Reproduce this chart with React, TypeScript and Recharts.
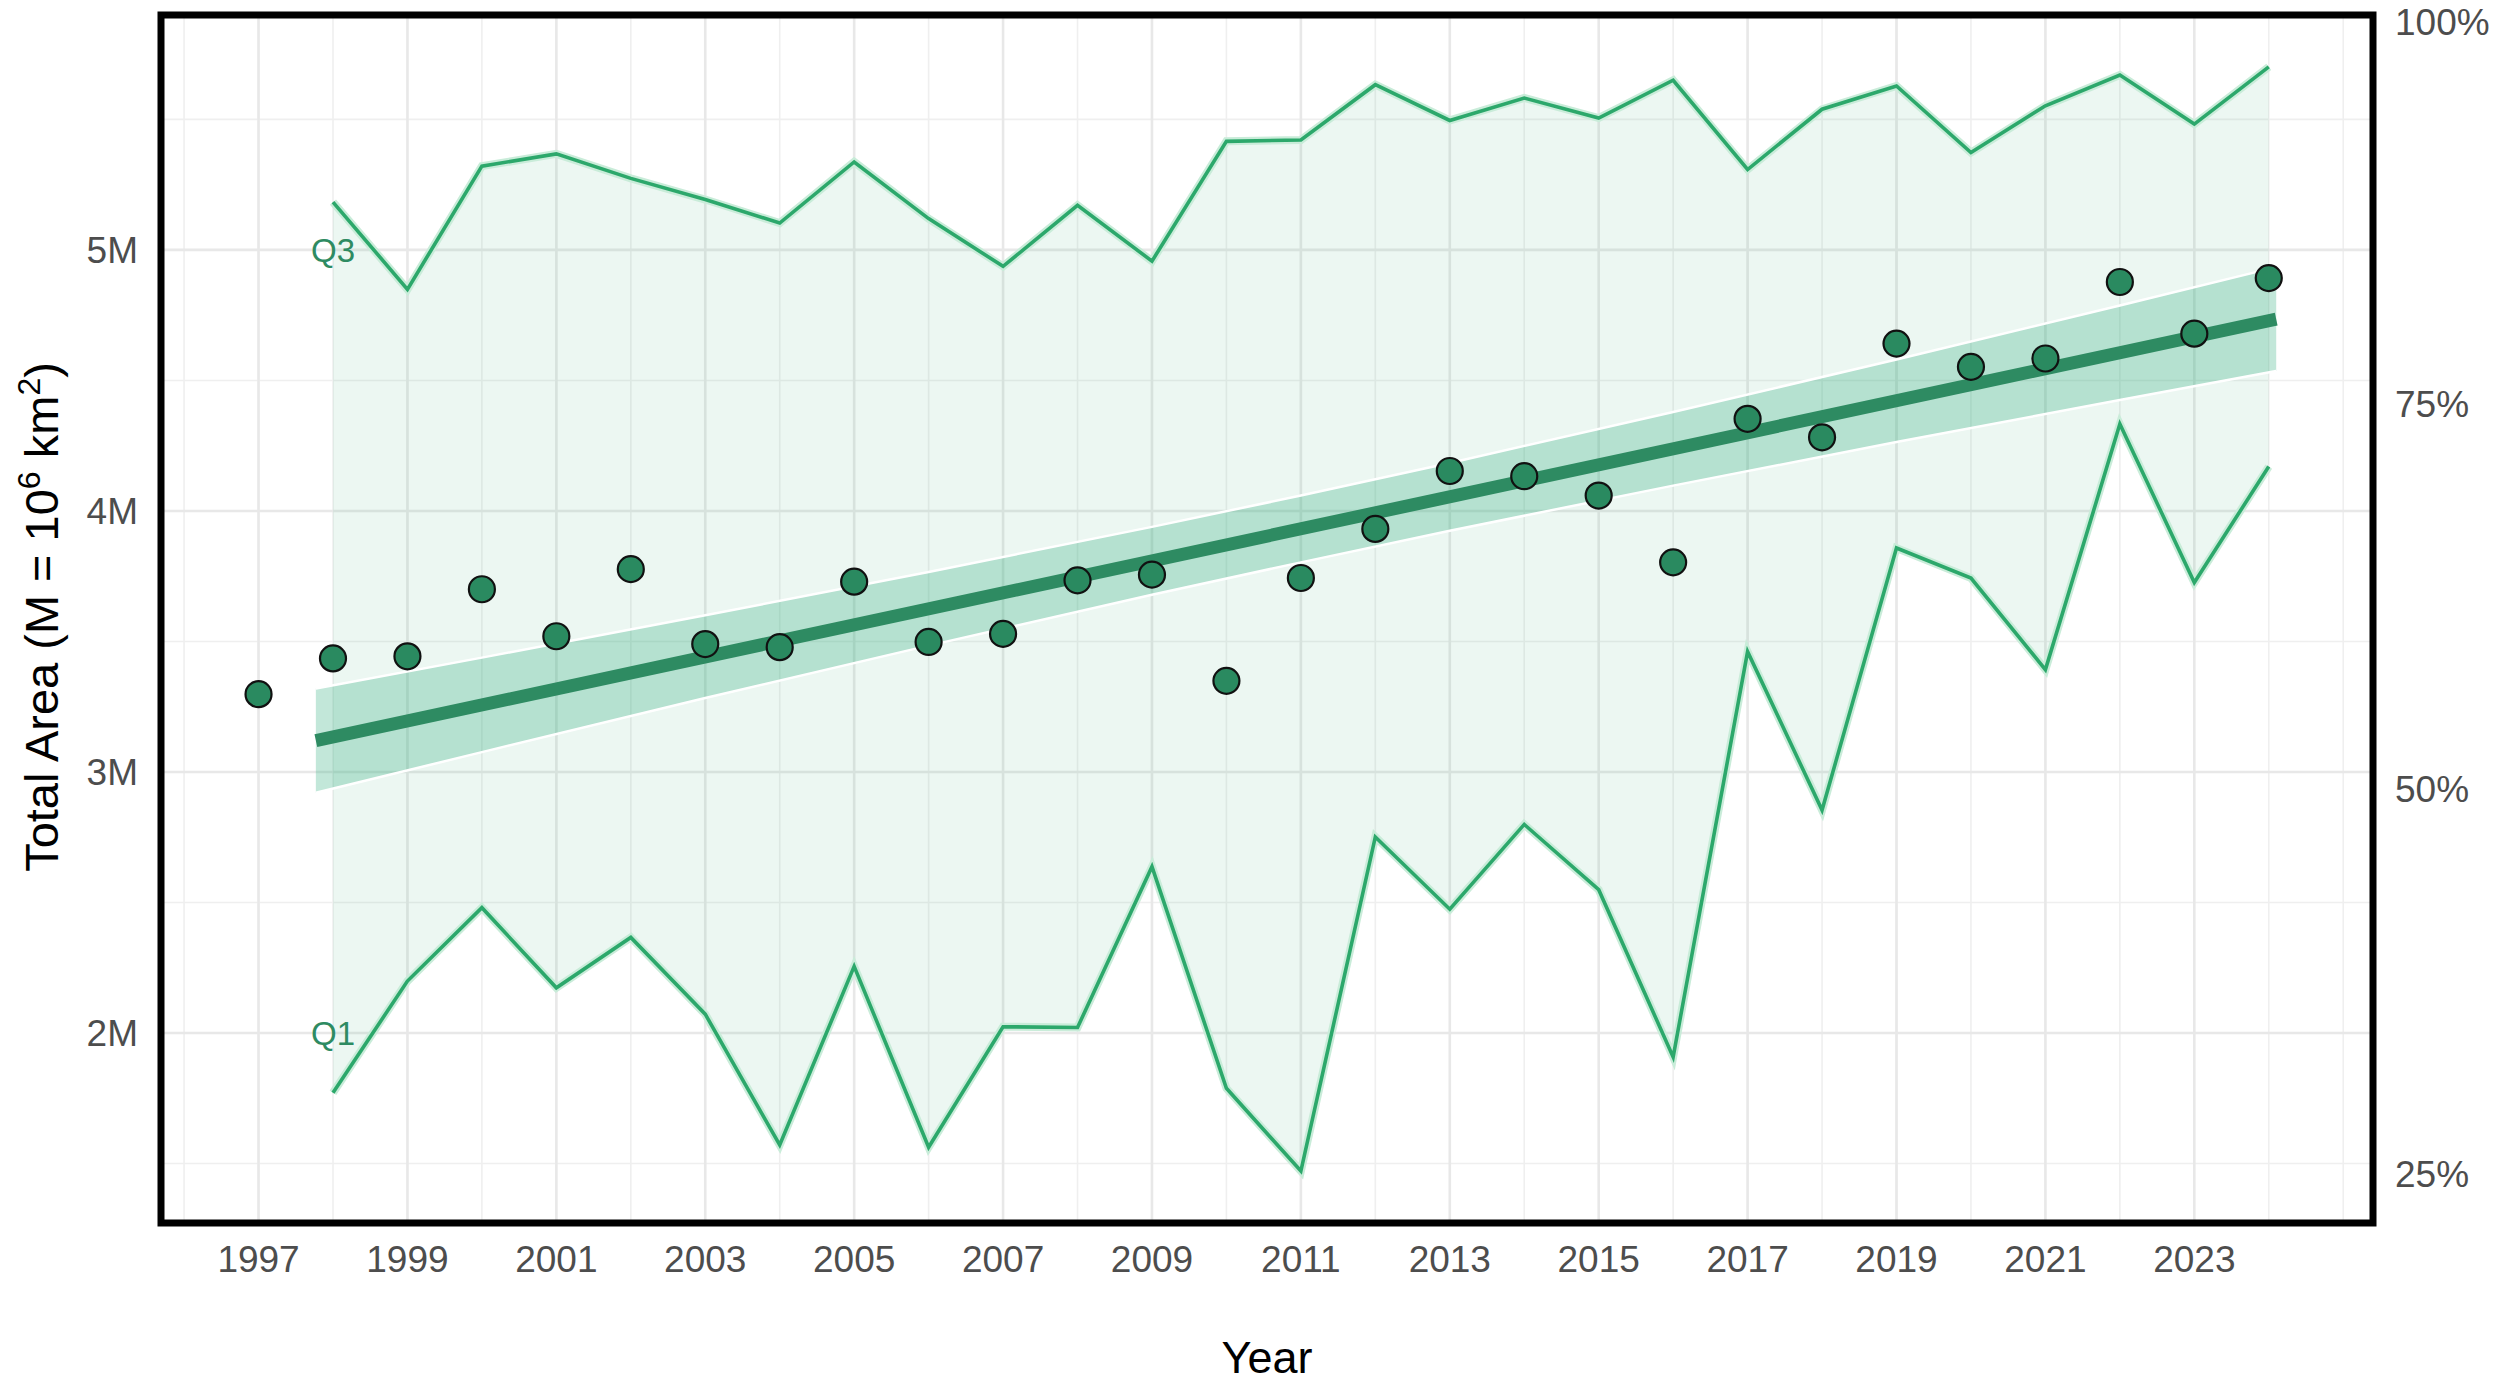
import React from 'react'
import {
  ComposedChart,
  Area,
  Line,
  Scatter,
  XAxis,
  YAxis,
  CartesianGrid,
  ReferenceArea,
  ReferenceDot,
} from 'recharts'

// yearly totals, millions of km2
const years = [
  1997, 1998, 1999, 2000, 2001, 2002, 2003, 2004, 2005, 2006, 2007, 2008, 2009, 2010,
  2011, 2012, 2013, 2014, 2015, 2016, 2017, 2018, 2019, 2020, 2021, 2022, 2023, 2024,
]
const totalArea = [
  3.298, 3.435, 3.443, 3.7, 3.52, 3.777, 3.49, 3.478, 3.729, 3.498, 3.529, 3.734, 3.756, 3.349,
  3.743, 3.931, 4.153, 4.133, 4.059, 3.803, 4.353, 4.282, 4.641, 4.552, 4.584, 4.877, 4.679, 4.892,
]

// quartile band (1998 onwards)
const quartileYears = years.slice(1)
const q3Values = [
  5.183, 4.849, 5.321, 5.368, 5.274, 5.193, 5.103, 5.337, 5.12, 4.937, 5.171, 4.957, 5.416,
  5.421, 5.633, 5.496, 5.582, 5.505, 5.65, 5.308, 5.539, 5.628, 5.373, 5.552, 5.67, 5.482, 5.701,
]
const q1Values = [
  1.771, 2.199, 2.48, 2.173, 2.366, 2.072, 1.571, 2.255, 1.562, 2.024, 2.021, 2.637, 1.788,
  1.471, 2.751, 2.474, 2.799, 2.549, 1.908, 3.461, 2.854, 3.858, 3.743, 3.392, 4.333, 3.726, 4.17,
]

// linear trend and its confidence ribbon
const fitYears = [1997.77, 2024.1]
const fitValues = [3.12, 4.735]
const ciYears = [1997.77, 2000, 2003, 2006, 2009, 2011, 2013, 2016, 2019, 2022, 2024.1]
const ciLower = [2.92, 3.076, 3.283, 3.484, 3.679, 3.803, 3.924, 4.097, 4.264, 4.425, 4.536]
const ciUpper = [3.32, 3.438, 3.6, 3.766, 3.939, 4.059, 4.184, 4.379, 4.58, 4.787, 4.934]

const xTicks = [1997, 1999, 2001, 2003, 2005, 2007, 2009, 2011, 2013, 2015, 2017, 2019, 2021, 2023]
const yTicks = [2, 3, 4, 5]
const pctTicks = [25, 50, 75, 100]

const X_DOMAIN: [number, number] = [1995.69, 2025.4]
const Y_DOMAIN: [number, number] = [1.272, 5.9]
const PCT_DOMAIN: [number, number] = [21.82, 100.29]

const pointData = years.map((year, i) => ({ year, area: totalArea[i] }))
const quartileData = quartileYears.map((year, i) => ({
  year,
  q1: q1Values[i],
  q3: q3Values[i],
  range: [q1Values[i], q3Values[i]],
}))
const fitData = fitYears.map((year, i) => ({ year, fit: fitValues[i] }))
const ciData = ciYears.map((year, i) => ({ year, ci: [ciLower[i], ciUpper[i]] }))

const FONT = '"Liberation Sans", Arial, Helvetica, sans-serif'
const tickStyle = { fontSize: 37, fill: '#4d4d4d', fontFamily: FONT }

const allYears: number[] = []
for (let y = 1996; y <= 2025; y++) allYears.push(y)

const Dot = (props: any) => {
  const { cx, cy } = props
  if (cx == null || cy == null) return null
  return <circle cx={cx} cy={cy} r={13} fill="#2a8a60" stroke="#111" strokeWidth={2.2} />
}

const YTitle = (props: any) => {
  const cx = 58
  const cy = 617
  return (
    <text
      transform={`translate(${cx},${cy}) rotate(-90)`}
      textAnchor="middle"
      fontSize={47}
      fontFamily={FONT}
      fill="#000"
    >
      <tspan>Total Area (M = 10</tspan>
      <tspan fontSize={32} dy={-18}>6</tspan>
      <tspan dy={18}> km</tspan>
      <tspan fontSize={32} dy={-18}>2</tspan>
      <tspan dy={18}>)</tspan>
    </text>
  )
}

export default function App() {
  return (
    <div style={{ position: 'absolute', left: 0, top: 0, background: '#fff' }}>
      <ComposedChart
        width={2500}
        height={1383}
        margin={{ top: 15, right: 0, bottom: 0, left: 0 }}
      >
        {/* minor grid */}
        <CartesianGrid
          stroke="#efefef"
          strokeWidth={1.6}
          horizontalValues={[1.5, 2.5, 3.5, 4.5, 5.5]}
          verticalValues={allYears}
        />
        {/* major grid */}
        <CartesianGrid
          stroke="#e8e8e8"
          strokeWidth={2.6}
          horizontalValues={yTicks}
          verticalValues={xTicks}
        />
        <XAxis
          type="number"
          dataKey="year"
          domain={X_DOMAIN}
          ticks={xTicks}
          allowDataOverflow
          axisLine={false}
          tickLine={false}
          tickSize={0}
          tickMargin={23}
          height={160}
          tick={tickStyle}
          label={{
            value: 'Year',
            position: 'insideBottom',
            offset: 10,
            fontSize: 45,
            fill: '#000',
            fontFamily: FONT,
          }}
        />
        <YAxis
          type="number"
          domain={Y_DOMAIN}
          ticks={yTicks}
          allowDataOverflow
          axisLine={false}
          tickLine={false}
          tickSize={0}
          tickMargin={23}
          width={161}
          tick={tickStyle}
          tickFormatter={(v: number) => `${v}M`}
          label={<YTitle />}
        />
        <YAxis
          yAxisId="right"
          orientation="right"
          type="number"
          domain={PCT_DOMAIN}
          ticks={pctTicks}
          allowDataOverflow
          axisLine={false}
          tickLine={false}
          tickSize={0}
          tickMargin={22}
          width={127}
          tick={{ ...tickStyle, textAnchor: 'start' }}
          tickFormatter={(v: number) => `${v}%`}
        />

        <Area
          data={quartileData}
          dataKey="range"
          type="linear"
          fill="#2aa86a"
          fillOpacity={0.09}
          stroke="none"
          isAnimationActive={false}
        />
        <Line
          data={quartileData}
          dataKey="q3"
          type="linear"
          stroke="#c9ecd9"
          strokeWidth={8}
          dot={false}
          activeDot={false}
          isAnimationActive={false}
        />
        <Line
          data={quartileData}
          dataKey="q1"
          type="linear"
          stroke="#c9ecd9"
          strokeWidth={8}
          dot={false}
          activeDot={false}
          isAnimationActive={false}
        />
        <Line
          data={quartileData}
          dataKey="q3"
          type="linear"
          stroke="#2ca86b"
          strokeWidth={3.6}
          dot={false}
          activeDot={false}
          isAnimationActive={false}
        />
        <Line
          data={quartileData}
          dataKey="q1"
          type="linear"
          stroke="#2ca86b"
          strokeWidth={3.6}
          dot={false}
          activeDot={false}
          isAnimationActive={false}
        />

        <Area
          data={ciData}
          dataKey="ci"
          type="linear"
          fill="#35b181"
          fillOpacity={0.3}
          stroke="#ffffff"
          strokeWidth={2.5}
          isAnimationActive={false}
        />
        <Line
          data={fitData}
          dataKey="fit"
          type="linear"
          stroke="#2e8b62"
          strokeWidth={13}
          strokeLinecap="butt"
          dot={false}
          activeDot={false}
          isAnimationActive={false}
        />

        <Scatter data={pointData} dataKey="area" shape={<Dot />} isAnimationActive={false} />

        <ReferenceDot
          x={1998}
          y={5}
          r={0}
          stroke="none"
          label={{ value: 'Q3', position: 'center', fontSize: 33, fill: '#2e8b62', fontFamily: FONT }}
        />
        <ReferenceDot
          x={1998}
          y={2}
          r={0}
          stroke="none"
          label={{ value: 'Q1', position: 'center', fontSize: 33, fill: '#2e8b62', fontFamily: FONT }}
        />

        <ReferenceArea
          x1={X_DOMAIN[0]}
          x2={X_DOMAIN[1]}
          y1={Y_DOMAIN[0]}
          y2={Y_DOMAIN[1]}
          fill="none"
          fillOpacity={0}
          stroke="#000"
          strokeWidth={7}
          ifOverflow="visible"
        />
      </ComposedChart>
    </div>
  )
}
